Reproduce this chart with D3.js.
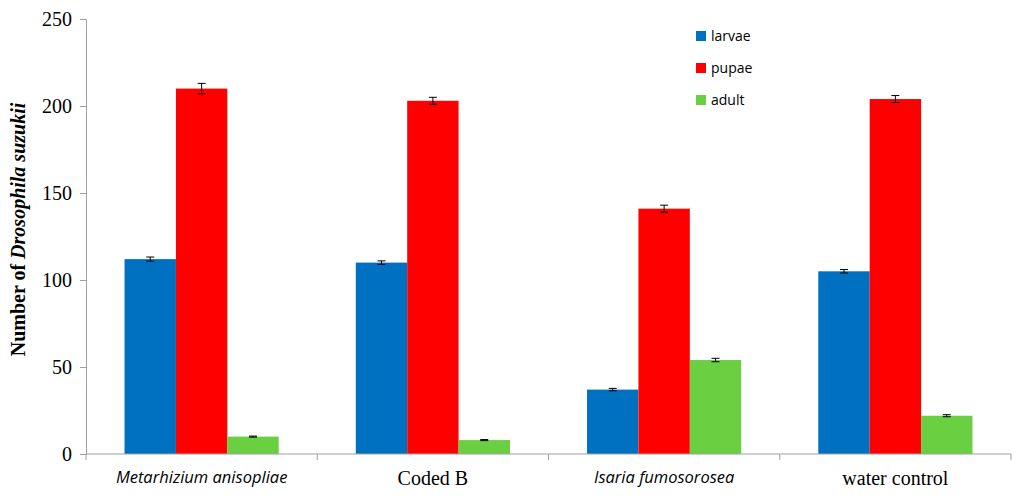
<!DOCTYPE html>
<html><head><meta charset="utf-8">
<script src="https://cdn.jsdelivr.net/npm/d3@7"></script>
<style>html,body{margin:0;padding:0;background:#fff;}svg{display:block;}</style>
</head><body><svg id="chart" width="1024" height="498"></svg>
<script>
const categories = ["Metarhizium anisopliae", "Coded B", "Isaria fumosorosea", "water control"];
const categoryItalic = [true, false, true, false];
const seriesNames = ["larvae", "pupae", "adult"];
const larvae = [112, 110, 37, 105];
const pupae = [210, 203, 141, 204];
const adult = [10, 8, 54, 22];
const larvaeErr = [1.2, 1, 0.7, 1];
const pupaeErr = [3, 2, 2, 2];
const adultErr = [0.3, 0.3, 1, 0.6];
const yTicks = [0, 50, 100, 150, 200, 250];
const colors = ["#0070C0", "#FF0000", "#6ACF41"];

(function () {
const values = [larvae, pupae, adult];
const errs = [larvaeErr, pupaeErr, adultErr];
const svg = d3.select("#chart");
const mLeft = 86, mRight = 1011, mTop = 19, mBottom = 454;

const x0 = d3.scaleBand().domain(categories).range([mLeft, mRight]).paddingInner(0).paddingOuter(0);
const x1 = d3.scaleBand().domain(seriesNames).range([0, x0.bandwidth()]).paddingInner(0).paddingOuter(0.75);
const y = d3.scaleLinear().domain([0, 250]).range([mBottom, mTop]);

// bars
const groups = svg.append("g").selectAll("g").data(categories).join("g")
  .attr("transform", d => `translate(${x0(d)},0)`);
seriesNames.forEach((s, si) => {
  groups.append("rect")
    .attr("x", x1(s))
    .attr("width", x1.bandwidth())
    .attr("y", (d, i) => y(values[si][i]))
    .attr("height", (d, i) => mBottom - y(values[si][i]))
    .attr("fill", colors[si]);
});
seriesNames.forEach((s, si) => {
  const eg = groups.append("g").attr("stroke", "#000").attr("stroke-width", 1);
  const cx = x1(s) + x1.bandwidth() / 2;
  eg.append("line").attr("x1", cx).attr("x2", cx)
    .attr("y1", (d, i) => y(values[si][i] + errs[si][i]))
    .attr("y2", (d, i) => y(values[si][i] - errs[si][i]));
  [1, -1].forEach(sg => {
    eg.append("line").attr("x1", cx - 4).attr("x2", cx + 4)
      .attr("y1", (d, i) => y(values[si][i] + sg * errs[si][i]))
      .attr("y2", (d, i) => y(values[si][i] + sg * errs[si][i]));
  });
});

// y axis
const yAxis = svg.append("g").attr("transform", `translate(${mLeft},0)`)
  .call(d3.axisLeft(y).tickValues(yTicks).tickSize(6).tickPadding(8));
yAxis.select(".domain").attr("stroke", "#a0a0a0");
yAxis.selectAll(".tick line").attr("stroke", "#a0a0a0");
yAxis.selectAll(".tick text").attr("font-family", "'Liberation Serif', serif").attr("font-size", 20).attr("fill", "#000");

// x axis
const xAxis = svg.append("g").attr("transform", `translate(0,${mBottom})`)
  .call(d3.axisBottom(x0).tickSize(0).tickPadding(17));
xAxis.select(".domain").attr("stroke", "#a0a0a0").attr("d", `M${mLeft},0H${mRight}`);
const xt = xAxis.append("g");
categories.concat(["end"]).forEach((c, i) => {
  const xx = i < categories.length ? x0(c) : mRight;
  xt.append("line").attr("x1", xx).attr("x2", xx).attr("y1", 0).attr("y2", 6).attr("stroke", "#a0a0a0");
});
xAxis.selectAll(".tick text")
  .attr("fill", "#000")
  .attr("dy", "0.71em")
  .each(function(d, i) {
    const t = d3.select(this);
    if (categoryItalic[i]) t.attr("font-family", "'Open Sans', sans-serif").attr("font-style", "italic").attr("font-size", 16.5);
    else t.attr("font-family", "'Liberation Serif', serif").attr("font-size", 20);
  });

// y title
const yt = svg.append("text")
  .attr("transform", `translate(25,${(mTop + mBottom) / 2 - 7}) rotate(-90)`)
  .attr("text-anchor", "middle")
  .attr("font-family", "'Liberation Serif', serif")
  .attr("font-weight", "bold").attr("font-size", 20).attr("fill", "#000");
yt.append("tspan").text("Number of ");
yt.append("tspan").attr("font-style", "italic").text("Drosophila suzukii");

// legend
const lg = svg.append("g").selectAll("g").data(seriesNames).join("g")
  .attr("transform", (d, i) => `translate(696,${36 + i * 32})`);
lg.append("rect").attr("x", 0).attr("y", -5).attr("width", 10).attr("height", 10).attr("fill", (d, i) => colors[i]);
lg.append("text").attr("x", 15).attr("y", 0).attr("dy", "0.35em")
  .attr("font-family", "'Open Sans', sans-serif").attr("font-size", 14).attr("fill", "#000").text(d => d);
})();
</script></body></html>
